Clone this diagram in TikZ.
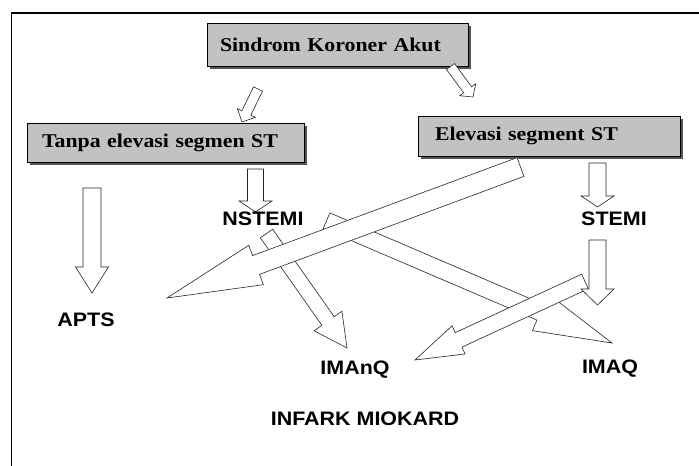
\documentclass[tikz,border=0pt]{standalone}
\usepackage{fontspec}
\setmainfont{Liberation Serif}[FakeStretch=1.12]
\newfontfamily\labfont{Liberation Sans}[FakeStretch=1.1]
\usetikzlibrary{calc,shadows}
\definecolor{boxgray}{RGB}{194,194,194}
\definecolor{shadowgray}{RGB}{85,85,85}
% #1 name, #2 tail, #3 tip, #4 shaft width, #5 head width, #6 head length
\newcommand\blockarrow[6]{%
  \coordinate (#1-b) at ($(#3)!#6!(#2)$);
  \draw[arrowbox] ($(#2)!#4/2!90:(#3)$) -- ($(#1-b)!#4/2!90:(#3)$)
    -- ($(#1-b)!#5/2!90:(#3)$) -- (#3) -- ($(#1-b)!#5/2!-90:(#3)$)
    -- ($(#1-b)!#4/2!-90:(#3)$) -- ($(#2)!#4/2!-90:(#3)$) -- cycle;
}
\begin{document}
\begin{tikzpicture}[x=1pt,y=-1pt,
  box/.style={draw=black, line width=0.8pt, fill=boxgray,
    drop shadow={shadow xshift=3pt, shadow yshift=-3pt, fill=shadowgray, opacity=1},
    align=left, inner ysep=0pt,
    font=\bfseries\fontsize{19.5}{22}\selectfont},
  lab/.style={font=\labfont\bfseries\fontsize{19.5}{22}\selectfont, inner sep=0pt},
  arrowbox/.style={draw=black!85, fill=white, line width=0.6pt, line join=miter}]
\useasboundingbox (0,0) rectangle (699,466);
\fill[white] (0,0) rectangle (699,466);
% frame
\draw[line width=1.5pt] (11.5,470) -- (11.5,13) -- (705,13);
% boxes
\node[box, text width=235pt, inner xsep=13pt, minimum height=43pt] (ska) at (337.5,44.5) {Sindrom Koroner Akut};
\node[box, text width=247pt, inner xsep=15pt, minimum height=39pt] (tanpa) at (165.5,142.5) {Tanpa elevasi segmen ST};
\node[box, text width=228pt, inner xsep=17pt, minimum height=40pt] (elev) at (549,136) {Elevasi segment ST};
% arrow end points
\coordinate (t1) at (258,89);    \coordinate (p1) at (242,122);
\coordinate (t2) at (450.5,66.5); \coordinate (p2) at (473,97);
\coordinate (t3) at (255.5,169); \coordinate (p3) at (255.5,212);
\coordinate (t4) at (92,188);    \coordinate (p4) at (92,293);
\coordinate (t5) at (597.5,163); \coordinate (p5) at (597.5,207);
\coordinate (t6) at (597.5,240); \coordinate (p6) at (597.5,305);
\coordinate (t7) at (520.5,167); \coordinate (p7) at (167,298);
\coordinate (t8) at (266.5,233.5); \coordinate (p8) at (347,348);
\coordinate (t9) at (326.5,220.7); \coordinate (p9) at (612,343);
\coordinate (t10) at (585,281.5); \coordinate (p10) at (415,360);
% arrows
\blockarrow{a1}{t1}{p1}{10pt}{20pt}{10pt}
\blockarrow{a2}{t2}{p2}{10pt}{20pt}{9pt}
\blockarrow{a3}{t3}{p3}{16pt}{33pt}{11pt}
\blockarrow{a4}{t4}{p4}{18pt}{33pt}{26pt}
\blockarrow{a5}{t5}{p5}{17pt}{33pt}{11pt}
\blockarrow{a8}{t8}{p8}{15pt}{34pt}{33pt}
\blockarrow{a9}{t9}{p9}{17pt}{40pt}{78pt}
\blockarrow{a7}{t7}{p7}{20pt}{42pt}{95pt}
\blockarrow{a10}{t10}{p10}{16pt}{31pt}{48pt}
\blockarrow{a6}{t6}{p6}{17pt}{33pt}{16pt}
% labels
\node[lab] (nstemi) at (263,219) {NSTEMI};
\node[lab] (stemi) at (614,219) {STEMI};
\node[lab] (apts) at (86,320) {APTS};
\node[lab] (imanq) at (355,370) {IMAnQ};
\node[lab] (imaq) at (610,369) {IMAQ};
\node[lab] (infark) at (365,419) {INFARK MIOKARD};
\end{tikzpicture}
\end{document}
